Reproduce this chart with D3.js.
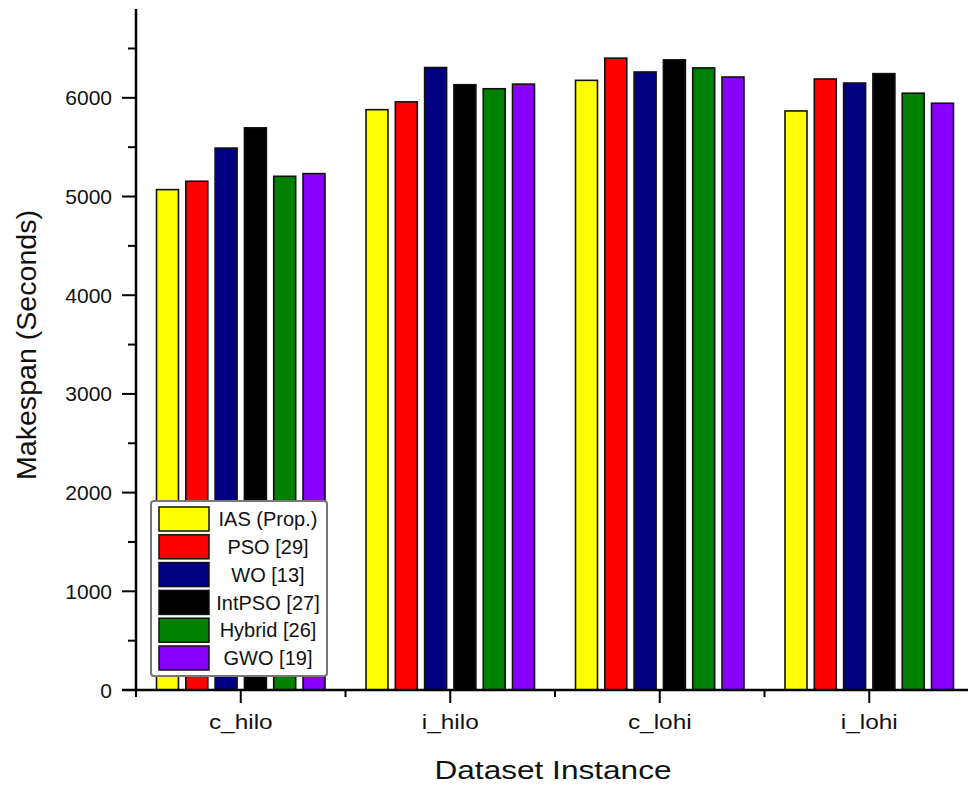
<!DOCTYPE html>
<html>
<head>
<meta charset="utf-8">
<script src="https://cdn.jsdelivr.net/npm/d3@7"></script>
<style>
  body { margin: 0; background: #fff; }
  svg text { font-family: Arial, "Liberation Sans", sans-serif; }
</style>
</head>
<body>
<div id="app"></div>
<script>
const datasets = ["c_hilo", "i_hilo", "c_lohi", "i_lohi"];
const methods = ["IAS (Prop.)", "PSO [29]", "WO [13]", "IntPSO [27]", "Hybrid [26]", "GWO [19]"];
const colors = ["#ffff00", "#ff0000", "#000080", "#000000", "#008000", "#8800ff"];

// makespan per method, one value per dataset
const ias = [5070, 5880, 6177, 5867];
const pso = [5155, 5959, 6402, 6191];
const wo = [5491, 6307, 6262, 6150];
const intpso = [5696, 6133, 6385, 6245];
const hybrid = [5205, 6092, 6303, 6047];
const gwo = [5232, 6139, 6211, 5945];
const yTicks = [0, 1000, 2000, 3000, 4000, 5000, 6000];

const series = [ias, pso, wo, intpso, hybrid, gwo];
const rows = [];
datasets.forEach((ds, i) => {
  methods.forEach((m, j) => rows.push({ ds, m, v: series[j][i], c: colors[j] }));
});

const w = 968;
const h = 789;
const svg = d3.select("#app").append("svg").attr("width", w).attr("height", h);

const x = d3.scaleBand().domain(datasets).range([136, 974]);
const xInner = d3.scaleBand().domain(methods).range([0, x.bandwidth()]).paddingInner(0.25).paddingOuter(0.7);
const y = d3.scaleLinear().domain([0, 6900]).range([690, 9]);

// bars
svg.append("g")
  .selectAll("rect")
  .data(rows)
  .enter()
  .append("rect")
  .attr("x", (d) => x(d.ds) + xInner(d.m))
  .attr("y", (d) => y(d.v))
  .attr("width", xInner.bandwidth())
  .attr("height", (d) => y(0) - y(d.v))
  .attr("fill", (d) => d.c)
  .attr("stroke", "#111")
  .attr("stroke-width", 1.6);

// y axis
const yMinor = d3.range(500, 6900, 1000);
const yAxis = svg.append("g").attr("transform", "translate(136,0)");
yAxis.append("line").attr("x1", 0).attr("x2", 0).attr("y1", y(6900)).attr("y2", y(0))
  .attr("stroke", "#000").attr("stroke-width", 2.5);
yAxis.selectAll(".maj").data(yTicks).enter().append("line")
  .attr("x1", -14).attr("x2", 0).attr("y1", (d) => y(d)).attr("y2", (d) => y(d))
  .attr("stroke", "#000").attr("stroke-width", 2);
yAxis.selectAll(".min").data(yMinor).enter().append("line")
  .attr("x1", -8).attr("x2", 0).attr("y1", (d) => y(d)).attr("y2", (d) => y(d))
  .attr("stroke", "#000").attr("stroke-width", 2);
yAxis.selectAll("text").data(yTicks).enter().append("text")
  .attr("x", -24).attr("y", (d) => y(d)).attr("dy", "0.36em")
  .attr("text-anchor", "end").attr("font-size", 21).attr("fill", "#111")
  .text((d) => d);

// x axis
const xAxis = svg.append("g").attr("transform", "translate(0,690)");
xAxis.append("line").attr("x1", 122).attr("x2", w).attr("y1", 0).attr("y2", 0)
  .attr("stroke", "#000").attr("stroke-width", 2.5);
xAxis.selectAll(".maj").data(datasets).enter().append("line")
  .attr("x1", (d) => x(d) + x.bandwidth() / 2).attr("x2", (d) => x(d) + x.bandwidth() / 2)
  .attr("y1", 0).attr("y2", 13).attr("stroke", "#000").attr("stroke-width", 2);
xAxis.selectAll(".min").data(datasets).enter().append("line")
  .attr("x1", (d) => x(d)).attr("x2", (d) => x(d))
  .attr("y1", 0).attr("y2", 7).attr("stroke", "#000").attr("stroke-width", 2);
xAxis.selectAll("text").data(datasets).enter().append("text")
  .attr("transform", (d) => `translate(${x(d) + x.bandwidth() / 2},39) scale(1.22,1)`)
  .attr("text-anchor", "middle").attr("font-size", 20).attr("fill", "#111")
  .text((d) => d);

// axis titles
svg.append("text")
  .attr("transform", "translate(36,345) rotate(-90)")
  .attr("text-anchor", "middle").attr("font-size", 28).attr("fill", "#111")
  .attr("textLength", 270).attr("lengthAdjust", "spacingAndGlyphs")
  .text("Makespan (Seconds)");
svg.append("text")
  .attr("x", 553).attr("y", 779)
  .attr("text-anchor", "middle").attr("font-size", 26).attr("fill", "#111")
  .attr("textLength", 237).attr("lengthAdjust", "spacingAndGlyphs")
  .text("Dataset Instance");

// legend
const legend = svg.append("g");
legend.append("rect")
  .attr("x", 151).attr("y", 501).attr("width", 176).attr("height", 175)
  .attr("rx", 3).attr("fill", "#fff").attr("stroke", "#777").attr("stroke-width", 2);
const items = legend.selectAll(".item").data(methods).enter().append("g")
  .attr("transform", (d, i) => `translate(159,${507 + i * 27.8})`);
items.append("rect")
  .attr("width", 50).attr("height", 24)
  .attr("fill", (d, i) => colors[i]).attr("stroke", "#111").attr("stroke-width", 1.5);
items.append("text")
  .attr("x", 109).attr("y", 12).attr("dy", "0.36em")
  .attr("text-anchor", "middle").attr("font-size", 20).attr("fill", "#111")
  .attr("font-family", "'Open Sans', sans-serif")
  .text((d) => d);
</script>
</body>
</html>
